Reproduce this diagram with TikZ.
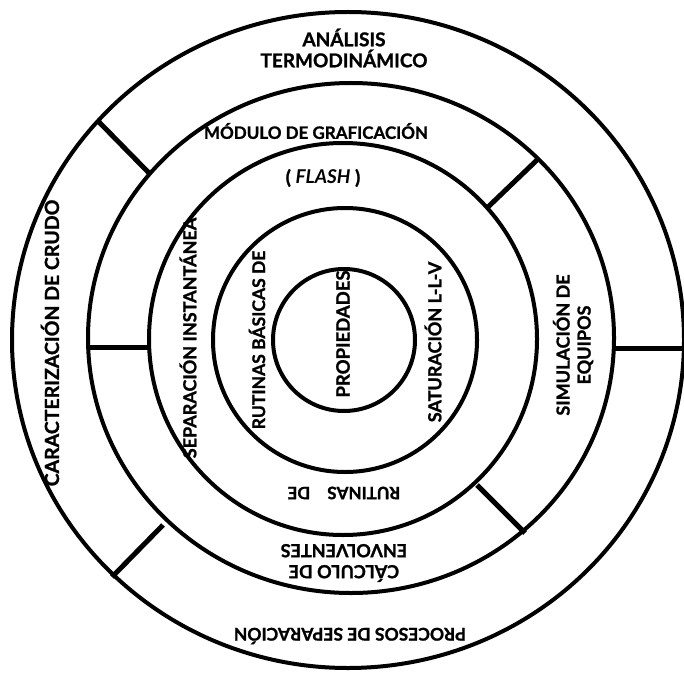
\documentclass[tikz,border=0pt]{standalone}
\usepackage{fontspec}
\setmainfont{Lato}[BoldFeatures={FakeBold=1.2}]
\usetikzlibrary{positioning}

\begin{document}
\begin{tikzpicture}[x=1pt, y=-1pt,
    ring/.style={line width=4pt},
    spoke/.style={line width=5pt},
    lbl/.style={font=\fontsize{#1}{21}\selectfont\bfseries, inner sep=0pt, align=center},
    lbl/.default=17]
  \useasboundingbox (0,0) rectangle (684,676);

  % rings, from the outside in
  \draw[ring] (348,340) ellipse [x radius=336pt, y radius=328pt];
  \draw[ring] (351,338) ellipse [x radius=263pt, y radius=255pt];
  \draw[ring] (343,339) ellipse [x radius=194pt, y radius=196pt];
  \draw[ring] (345,340) circle [radius=132pt];
  \draw[ring] (344,340) circle [radius=71pt];

  % spokes between the rings
  \draw[spoke] (98,121) -- (149,173);
  \draw[spoke] (537,160) -- (488,207);
  \draw[spoke] (88,347) -- (151,347);
  \draw[spoke] (615,348) -- (684,348);
  \draw[spoke] (112,577) -- (163,525);
  \draw[spoke] (477,485) -- (525,533);

  % labels
  \node[lbl=19] (ana) at (344,48) {ANÁLISIS\\TERMODINÁMICO};
  \node[lbl] (mod) at (316,131) {MÓDULO DE GRAFICACIÓN};
  \node[lbl=19] (fla) at (323,178) {( \textit{FLASH} )};
  \node[lbl=19.5, rotate=90] (car) at (50,343) {CARACTERIZACIÓN DE CRUDO};
  \node[lbl=18, rotate=90] (sep) at (188,338) {SEPARACIÓN INSTANTÁNEA};
  \node[lbl=17.5, rotate=90] (bas) at (257,340) {RUTINAS BÁSICAS DE};
  \node[lbl=18.5, rotate=90] (pro) at (343,334) {PROPIEDADES};
  \node[lbl=18, rotate=90] (sat) at (433,342) {SATURACIÓN L-L-V};
  \node[lbl=18, rotate=90] (sim) at (573,345) {SIMULACIÓN DE\\EQUIPOS};
  \node[lbl, rotate=180] (rde) at (344,493) {RUTINAS\quad DE};
  \node[lbl=18, rotate=180] (cal) at (344,563) {CÁLCULO DE\\ENVOLVENTES};
  \node[lbl=17.5, rotate=180] (prc) at (350,636) {PROCESOS DE SEPARACIÓN};
\end{tikzpicture}
\end{document}
